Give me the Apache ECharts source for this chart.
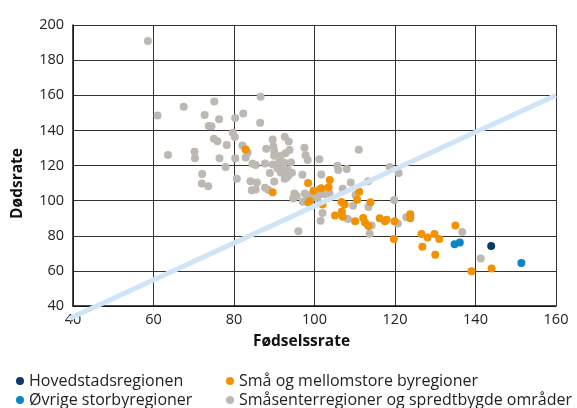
<!DOCTYPE html>
<html>
<head>
<meta charset="utf-8">
<script src="https://cdn.jsdelivr.net/npm/echarts@6/dist/echarts.min.js"></script>
<style>
html,body{margin:0;padding:0;background:#fff;}
#chart{width:577px;height:408px;}
</style>
</head>
<body>
<div id="chart"></div>
<script>
// ---- data ----
const seriesNames = ["Hovedstadsregionen", "Øvrige storbyregioner", "Små og mellomstore byregioner", "Småsenterregioner og spredtbygde områder"];
const xTicks = [40, 60, 80, 100, 120, 140, 160];
const yTicks = [40, 60, 80, 100, 120, 140, 160, 180, 200];
const xName = "Fødselssrate";
const yName = "Dødsrate";

const hovedstad = [[143.9, 74.2]];
const storby = [[134.8, 75.1], [136.1, 76.2], [151.4, 64.5]];
const smaaBy = [
  [82.9,129.1],[89.6,104.8],[98.4,110.0],[99.8,105.6],[98.9,99.8],[98.5,98.9],
  [101.7,107.0],[103.5,107.6],[103.8,111.8],[102.0,97.8],[111.1,105.0],[110.6,100.5],
  [106.7,99.2],[107.5,97.8],[106.8,93.8],[107.0,90.8],[105.1,91.5],[110.1,88.3],
  [112.1,90.1],[112.6,87.4],[113.4,85.5],[116.2,89.9],[117.5,88.2],[117.9,89.1],
  [119.9,88.2],[119.7,78.1],[123.8,92.3],[123.8,90.0],[113.9,99.1],[126.6,81.0],
  [128.1,79.0],[129.8,81.0],[131.0,78.2],[126.8,73.8],[130.0,69.2],[135.0,85.9],
  [139.0,59.8],[144.0,61.3]
];
const smaaSenter = [
  [58.6,190.9],[61.0,148.5],[67.5,153.5],[75.1,156.4],[72.7,148.8],[76.3,146.4],
  [80.3,147.0],[82.3,149.6],[86.5,144.3],[86.6,159.1],[73.7,142.5],[74.4,142.4],
  [79.7,138.7],[80.2,136.2],[75.0,135.3],[75.9,133.8],[78.2,131.7],[82.1,131.4],
  [83.4,127.4],[63.6,126.0],[70.2,127.9],[70.3,124.1],[76.4,124.1],[80.3,124.1],
  [82.9,124.5],[77.9,119.2],[84.6,121.0],[85.4,120.3],[72.1,115.1],[80.7,112.4],
  [84.1,111.1],[85.7,110.3],[72.0,109.7],[73.6,108.2],[85.4,106.3],[87.7,107.3],
  [88.5,106.2],[87.7,121.1],[89.6,134.8],[92.6,136.3],[93.6,133.7],[88.0,129.5],
  [89.8,130.9],[90.0,128.2],[93.8,128.8],[90.0,125.5],[91.6,125.6],[92.8,127.0],
  [97.5,130.1],[97.8,125.8],[98.3,123.1],[101.2,123.5],[89.6,120.5],[91.2,121.9],
  [92.5,121.6],[94.2,121.7],[90.8,118.5],[92.1,117.8],[93.4,117.4],[92.9,115.5],
  [93.5,114.1],[93.0,113.0],[94.4,115.9],[91.6,116.0],[88.9,115.8],[90.0,110.9],
  [92.6,112.4],[97.0,114.7],[84.4,105.9],[95.0,104.1],[95.6,102.6],[97.6,104.1],
  [98.1,102.4],[101.2,106.4],[101.7,114.9],[105.7,119.8],[105.9,117.4],[108.0,118.0],
  [111.0,129.0],[102.0,93.0],[100.7,101.3],[101.4,103.8],[102.5,103.6],[103.7,104.2],
  [107.0,106.8],[110.2,103.2],[109.0,110.3],[113.3,111.1],[109.6,97.1],[113.4,96.4],
  [108.3,89.5],[114.2,85.8],[113.7,81.1],[119.8,100.3],[118.7,119.2],[120.9,115.8],
  [120.7,87.0],[122.8,90.6],[136.7,82.2],[141.3,67.0],[101.5,88.5],[96.0,82.6],
  [94.7,101.2],[97.1,99.4],[99.3,103.5]
];
const refLine = [[38.8, 32.5], [160, 160]];

const colors = ["#0b3b66", "#0a86c4", "#f39200", "#bdb8b1"];
const lineColor = "#cfe4f6";

// ---- chart ----
const chart = echarts.init(document.getElementById('chart'), null, {renderer: 'canvas'});
const font = "'Open Sans', 'Noto Sans', sans-serif";
const groups = [hovedstad, storby, smaaBy, smaaSenter];
const legendPos = [[16, 373], [16, 392], [226, 373], [226, 392]];

const option = {
  animation: false,
  textStyle: {fontFamily: font},
  grid: {left: 73, right: 21, top: 25, bottom: 102, containLabel: false},
  legend: seriesNames.map((n, i) => ({
    data: [n], orient: 'horizontal', left: legendPos[i][0], top: legendPos[i][1],
    icon: 'circle', itemWidth: 8, itemHeight: 8, itemGap: 0, padding: 0,
    textStyle: {fontFamily: font, fontSize: 16, color: '#222'}
  })),
  xAxis: {
    type: 'value', min: xTicks[0], max: xTicks[xTicks.length-1], interval: 20,
    name: xName, nameLocation: 'middle', nameGap: 28,
    nameTextStyle: {fontFamily: font, fontSize: 15.5, fontWeight: 'bold', color: '#111', padding: [0, 26, 0, 0]},
    axisLine: {lineStyle: {color: '#111', width: 1.5}},
    axisTick: {show: false},
    axisLabel: {fontFamily: font, fontSize: 14.5, color: '#222', margin: 6},
    splitLine: {lineStyle: {color: '#333', width: 1}}
  },
  yAxis: {
    type: 'value', min: yTicks[0], max: yTicks[yTicks.length-1], interval: 20,
    name: yName, nameLocation: 'middle', nameGap: 47, nameRotate: 90,
    nameTextStyle: {fontFamily: font, fontSize: 15.5, fontWeight: 'bold', color: '#111', padding: [0, 36, 0, 0]},
    axisLine: {show: true, lineStyle: {color: '#111', width: 1.5}},
    axisTick: {show: false},
    axisLabel: {fontFamily: font, fontSize: 14.5, color: '#222', margin: 9},
    splitLine: {lineStyle: {color: '#333', width: 1}}
  },
  series: groups.map((g, i) => ({
    name: seriesNames[i], type: 'scatter', data: g, symbolSize: 8,
    itemStyle: {color: colors[i], opacity: 1}, z: 3 - (i === 3 ? 1 : 0)
  })).concat([{
    type: 'line', data: refLine, symbol: 'none', clip: false, silent: true,
    lineStyle: {color: lineColor, width: 5}, z: 4
  }])
};
chart.setOption(option);
</script>
</body>
</html>
